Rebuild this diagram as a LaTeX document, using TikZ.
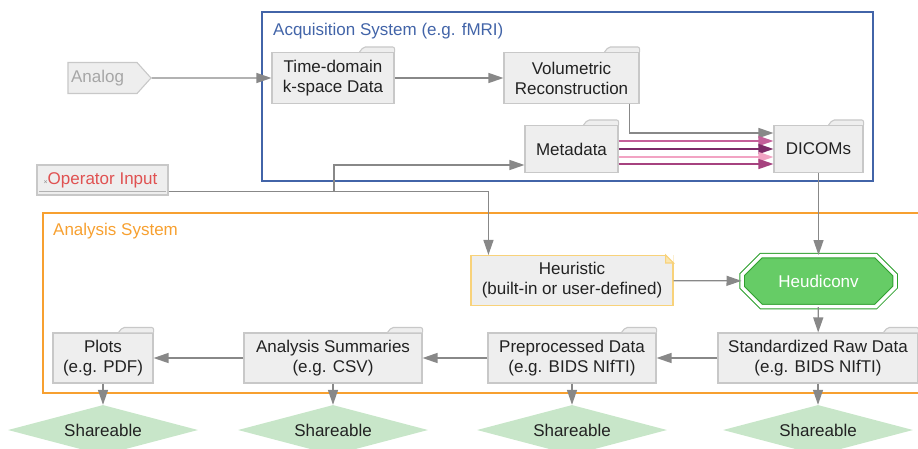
\documentclass[tikz,border=0pt]{standalone}
\usepackage{fontspec}
\setmainfont{Liberation Sans}
\usetikzlibrary{arrows.meta,shapes.misc,shapes.symbols,shapes.geometric}
\definecolor{boxfill}{HTML}{EEEEEE}
\definecolor{boxline}{HTML}{C8C8C8}
\definecolor{txt}{HTML}{222222}
\definecolor{arrgray}{HTML}{888888}
\definecolor{acqblue}{HTML}{4264A8}
\definecolor{anaorange}{HTML}{F7A030}
\definecolor{opred}{HTML}{E05252}
\definecolor{noteyellow}{HTML}{F8D27A}
\definecolor{notefold}{HTML}{FBE6B0}
\definecolor{heugreen}{HTML}{2EA02E}
\definecolor{heufill}{HTML}{66CC66}
\definecolor{sharegreen}{HTML}{C8E6C9}
\definecolor{pinkA}{HTML}{C4609A}
\definecolor{pinkB}{HTML}{7D2B68}
\definecolor{pinkC}{HTML}{F2A3C3}
\definecolor{pinkD}{HTML}{A6427F}

\begin{document}
\begin{tikzpicture}[x=1pt, y=-1pt, >={Triangle[length=15pt,width=10pt]},
  font=\fontsize{17}{20}\selectfont,
  every node/.style={align=center, text=txt, inner sep=0pt},
  folder/.style={rectangle, draw=boxline, fill=boxfill, line width=1.1pt},
  foldertab/.style={draw=boxline, fill=boxfill, line width=1.1pt, rounded corners=2pt},
  arr/.style={->, draw=arrgray, fill=arrgray, line width=1.3pt},
  share/.style={diamond, fill=sharegreen, minimum width=190pt, minimum height=50pt, aspect=3.8}]
 \clip (0,0) rectangle (918,448);

 % system frames
 \draw[acqblue, line width=1.2pt] (262,12) rectangle (873,181);
 \node[anchor=base west, text=acqblue] (acqtitle) at (273,35) {Acquisition System (e.g. fMRI)};
 \draw[anaorange, line width=1.2pt] (43,213) rectangle (940,393);
 \node[anchor=base west, text=anaorange] (anatitle) at (53,235) {Analysis System};

 % inputs
 \node[signal, signal to=east, signal pointer angle=96, draw=boxline, fill=boxfill, line width=1.1pt,
   minimum width=83pt, minimum height=31pt, text=black!35] (analog) at (102.5,78) {\hspace*{-10pt}Analog};
 \node[folder, minimum width=131pt, minimum height=30pt] (op) at (102.5,180)
   {\hspace*{-4pt}\textcolor{black!45}{\fontsize{7}{7}\selectfont ×}\textcolor{opred}{Operator Input}};
 \draw[black!30, line width=1pt] ([xshift=3pt,yshift=4pt]op.south west) -- ([xshift=-3pt,yshift=4pt]op.south east);

 % acquisition
 \node[folder, minimum width=122pt, minimum height=51pt] (tdom) at (333,78) {Time-domain\\k-space Data};
 \node[folder, minimum width=135pt, minimum height=51pt] (vol) at (571.5,78) {Volumetric\\Reconstruction};
 \node[folder, minimum width=93pt, minimum height=47pt] (meta) at (571.5,149) {Metadata};
 \node[folder, minimum width=89pt, minimum height=47pt] (dcm) at (818.5,149) {DICOMs};

 % analysis
 \node[rectangle, draw=noteyellow, fill=boxfill, line width=1.1pt, minimum width=202pt, minimum height=50pt]
   (heur) at (572,280.5) {Heuristic\\(built-in or user-defined)};
 \node[chamfered rectangle, chamfered rectangle xsep=14pt, chamfered rectangle ysep=13pt,
   draw=heugreen, double=white, double distance=3.5pt, line width=1pt, fill=heufill, text=white,
   minimum width=153pt, minimum height=51pt] (heu) at (818.5,281) {Heudiconv};
 \node[folder, minimum width=200pt, minimum height=50pt] (std) at (818,358) {Standardized Raw Data\\(e.g. BIDS NIfTI)};
 \node[folder, minimum width=168pt, minimum height=50pt] (pre) at (572,358) {Preprocessed Data\\(e.g. BIDS NIfTI)};
 \node[folder, minimum width=178pt, minimum height=50pt] (sum) at (333,358) {Analysis Summaries\\(e.g. CSV)};
 \node[folder, minimum width=100pt, minimum height=50pt] (plt) at (103,358) {Plots\\(e.g. PDF)};

 \node[share] (sh1) at (103,430) {Shareable};
 \node[share] (sh2) at (333,430) {Shareable};
 \node[share] (sh3) at (572,430) {Shareable};
 \node[share] (sh4) at (818,430) {Shareable};

 % folder tabs and note corner
 \foreach \n in {tdom,vol,meta,dcm,std,pre,sum,plt}
   \draw[foldertab] ([xshift=-35pt]\n.north east) -- ++(4,-5) -- ([yshift=5pt]\n.north east) -- (\n.north east);
 \fill[white] ([xshift=-8pt]heur.north east) -- (heur.north east) -- ([yshift=-8pt]heur.north east) -- cycle;
 \draw[noteyellow, fill=notefold, line width=1.1pt] ([xshift=-8pt]heur.north east) -- ([xshift=-8pt,yshift=-8pt]heur.north east)
   -- ([yshift=-8pt]heur.north east) -- cycle;

 % connectors
 \path[arr] (analog) edge (tdom);
 \path[arr] (tdom) edge (vol);
 \draw[arr, fill=none] ([xshift=-10pt]vol.south east) |- ([yshift=16pt]dcm.west);
 \foreach \dy/\c in {8/pinkA, 0/pinkB, -8/pinkC, -15/pinkD}
   \draw[->, \c, line width=1.3pt] ([yshift=\dy pt]meta.east) -- ([yshift=\dy pt]dcm.west);
 \coordinate (opsplit) at (334,191);
 \draw[arr, fill=none] ([yshift=4pt]op.south east) -| ([xshift=18pt]heur.north west);
 \draw[arr, fill=none] (opsplit) |- ([yshift=-16pt]meta.west);
 \path[arr] (dcm) edge (heu);
 \path[arr] (heur) edge (heu);
 \path[arr] (heu) edge (std);
 \path[arr] (std) edge (pre);
 \path[arr] (pre) edge (sum);
 \path[arr] (sum) edge (plt);
 \path[arr] (plt) edge (sh1);
 \path[arr] (sum) edge (sh2);
 \path[arr] (pre) edge (sh3);
 \path[arr] (std) edge (sh4);
\end{tikzpicture}
\end{document}
